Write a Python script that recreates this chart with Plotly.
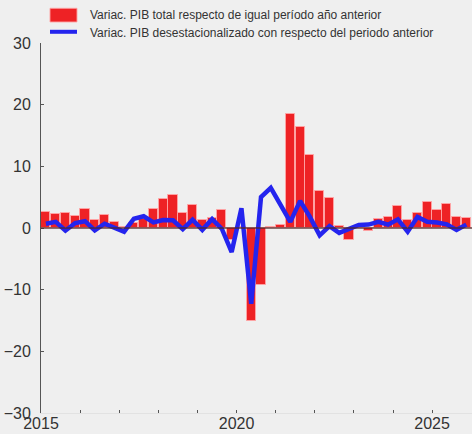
import plotly.graph_objects as go

# Quarterly periods 2015Q1 .. 2025Q4
start_year = 2015
n_quarters = 44
quarter_pos = [start_year + 0.25 * i + 0.125 for i in range(n_quarters)]

# Variac. PIB total respecto de igual período año anterior (%)
pib_yoy = [2.6, 2.2, 2.4, 1.95, 3.15, 1.35, 2.05, 0.9,
           0.2, 0.85, 1.5, 3.15, 4.65, 5.4, 2.45, 3.7,
           1.35, 1.7, 3.0, -2.0, 0.2, -15.1, -9.3, 0.15,
           0.55, 18.45, 16.4, 11.8, 6.05, 4.85, 0.25, -2.0,
           0.1, -0.45, 1.4, 1.75, 3.6, 1.25, 2.5, 4.15,
           3.0, 3.85, 1.75, 1.6]

# Variac. PIB desestacionalizado con respecto del periodo anterior (%)
pib_qoq = [0.7, 1.0, -0.4, 0.8, 1.1, -0.4, 0.7, 0.05,
           -0.6, 1.5, 1.9, 0.9, 1.3, 1.25, -0.2, 1.35,
           -0.3, 1.45, -0.15, -3.9, 3.2, -12.3, 5.0, 6.5,
           3.6, 1.0, 4.4, 1.8, -1.2, 0.3, -0.8, -0.1,
           0.5, 0.55, 1.0, 0.55, 1.4, -0.6, 1.8, 1.0,
           0.9, 0.6, -0.3, 0.55]

series_names = ["Variac. PIB total respecto de igual período año anterior",
                "Variac. PIB desestacionalizado con respecto del periodo anterior"]

year_ticks = list(range(2015, 2027))
year_labels = [str(y) if y % 5 == 0 else "" for y in year_ticks]
y_ticks = [-30, -20, -10, 0, 10, 20, 30]

FONT = "Liberation Sans, Arial, sans-serif"
BG = "#efefef"
RED = "#ee2225"
BLUE = "#2424ee"

fig = go.Figure()
fig.add_trace(go.Bar(
    x=quarter_pos, y=pib_yoy, name=series_names[0], width=0.235,
    marker=dict(color=RED, line=dict(color="rgba(255,165,165,0.9)", width=1)),
    showlegend=False,
))
fig.add_trace(go.Scatter(
    x=quarter_pos, y=pib_qoq, name=series_names[1], mode="lines",
    line=dict(color=BLUE, width=4.5), showlegend=False,
))

# zero line over the bars
fig.add_shape(type="line", xref="paper", x0=0, x1=1, yref="y", y0=0, y1=0,
              line=dict(color="rgba(80,40,40,0.85)", width=1.5), layer="above")

# legend drawn at the top (symbols + labels)
fig.add_shape(type="rect", xref="paper", yref="paper",
              x0=0.0209, x1=0.0835, y0=1.0568, y1=1.0938,
              fillcolor=RED, line=dict(color="rgba(255,160,160,0.9)", width=1))
fig.add_shape(type="line", xref="paper", yref="paper",
              x0=0.0209, x1=0.0835, y0=1.0303, y1=1.0303,
              line=dict(color=BLUE, width=4))
for name, yy in zip(series_names, [1.0757, 1.0278]):
    fig.add_annotation(text=name, xref="paper", yref="paper", x=0.109, y=yy,
                       xanchor="left", yanchor="middle", showarrow=False,
                       font=dict(size=12, color="#333333", family=FONT))

fig.update_layout(
    width=472, height=434,
    margin=dict(l=41, r=0, t=43, b=21, autoexpand=False),
    paper_bgcolor=BG, plot_bgcolor=BG,
    font=dict(family=FONT, color="#333333"),
    showlegend=False,
    bargap=0,
    xaxis=dict(range=[2015, 2026.02], tickvals=year_ticks, ticktext=year_labels,
               ticks="inside", ticklen=3, tickcolor="#555555",
               showline=True, linecolor="#e2e2e2", linewidth=1, automargin=False,
               showgrid=False, zeroline=False, ticklabelstandoff=-4,
               tickfont=dict(size=16, color="#333333")),
    yaxis=dict(range=[-30, 30], tickvals=y_ticks, automargin=False,
               ticks="inside", ticklen=3, tickcolor="#555555",
               showline=True, linecolor="#555555", linewidth=1,
               showgrid=False, zeroline=False, ticklabelstandoff=6,
               tickfont=dict(size=16, color="#333333")),
)

fig.write_html("out.html", config={"displayModeBar": False},
               post_script="document.body.style.margin='0';document.body.style.background='#efefef';")
